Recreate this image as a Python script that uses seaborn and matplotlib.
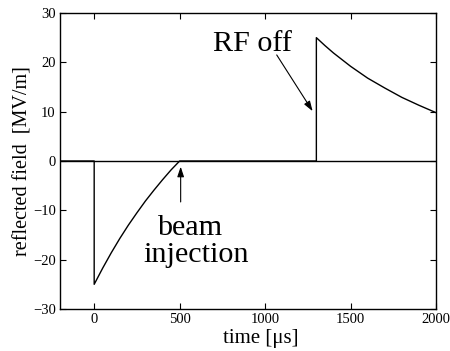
import numpy as np
import pandas as pd
import matplotlib
matplotlib.use("Agg")
import matplotlib.pyplot as plt
import seaborn as sns

# values (time in us, field in MV/m)
time_us = [-200, 0, 0, 50, 100, 150, 200, 250, 300, 350, 400, 450, 500,
           1300, 1300, 1350, 1400, 1500, 1600, 1700, 1800, 1900, 2000]
field = [0, 0, -25, -21.7, -18.6, -15.7, -13.0, -10.5, -8.1, -5.9, -3.8, -1.8, 0,
         0, 25, 23.4, 21.9, 19.2, 16.8, 14.8, 12.9, 11.3, 9.8]
base_time = [-200, 2000]
base_field = [0, 0]

xticks = [0, 500, 1000, 1500, 2000]
yticks = [-30, -20, -10, 0, 10, 20, 30]

sns.set_style("ticks")
plt.rcParams["font.family"] = ["Liberation Serif", "DejaVu Serif"]
plt.rcParams["text.color"] = "black"
plt.rcParams["axes.labelcolor"] = "black"
plt.rcParams["xtick.color"] = "black"
plt.rcParams["ytick.color"] = "black"

df = pd.DataFrame({"time": time_us, "field": field})
df0 = pd.DataFrame({"time": base_time, "field": base_field})

fig = plt.figure(figsize=(4.5, 3.51), dpi=100)
ax = fig.add_axes([60 / 450, 1 - 309 / 351, 376 / 450, 296 / 351])

sns.lineplot(data=df0, x="time", y="field", color="black", lw=1.0,
             estimator=None, sort=False, ax=ax)
sns.lineplot(data=df, x="time", y="field", color="black", lw=1.0,
             estimator=None, sort=False, ax=ax)

ax.set_xlim(-200, 2000)
ax.set_ylim(-30, 30)
ax.set_xticks(xticks)
ax.set_yticks(yticks)
ax.set_xticklabels([str(t) for t in xticks])
ax.set_yticklabels([str(t).replace("-", "\u2212") for t in yticks])
ax.tick_params(direction="in", length=4, width=0.8, top=True, right=True,
               labelsize=10.5, pad=3, colors="black")
for s in ax.spines.values():
    s.set_visible(True)
    s.set_linewidth(1.0)
    s.set_color("black")

ax.set_xlabel("time [\u03bcs]", fontsize=15)
ax.set_ylabel("reflected field  [MV/m]", fontsize=14.5)
ax.xaxis.set_label_coords(0.535, -0.066)
ax.yaxis.set_label_coords(-0.072, 0.5)

arrow = dict(arrowstyle="-|>,head_length=0.6,head_width=0.2", color="black",
             lw=0.8, shrinkA=0, shrinkB=0, mutation_scale=10)
ax.annotate("", xy=(1278, 10.1), xytext=(1068, 21.5), arrowprops=arrow)
ax.annotate("", xy=(506, -1.15), xytext=(506, -8.3), arrowprops=arrow)

ax.text(924, 22.3, "RF off", ha="center", va="baseline", fontsize=21.7)
ax.text(561, -15.0, "beam", ha="center", va="baseline", fontsize=21.7)
ax.text(596, -20.5, "injection", ha="center", va="baseline", fontsize=21.7)

fig.savefig("out.png", dpi=100)
